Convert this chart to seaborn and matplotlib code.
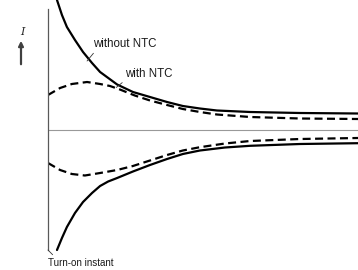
import numpy as np
import pandas as pd
import matplotlib
matplotlib.use("Agg")
import matplotlib.pyplot as plt
import seaborn as sns

# --- Données (t et I en unités arbitraires) ---
t_solid_top = [0.29, 0.45, 0.61, 0.87, 1.13, 1.42, 1.68, 2.23, 2.74, 3.29, 3.84, 4.35, 4.9, 5.45, 6.52, 8.13, 10.0]
i_solid_top = [13.0, 11.5, 10.3, 9.0, 7.8, 6.7, 5.8, 4.55, 3.8, 3.3, 2.8, 2.4, 2.15, 1.95, 1.8, 1.7, 1.65]

t_dash_top = [0.0, 0.39, 0.77, 1.26, 1.68, 2.0, 2.32, 2.8, 3.29, 3.84, 4.35, 4.9, 5.45, 6.52, 8.13, 10.0]
i_dash_top = [3.5, 4.2, 4.6, 4.8, 4.6, 4.4, 4.05, 3.45, 2.95, 2.5, 2.1, 1.8, 1.55, 1.3, 1.15, 1.1]

t_dash_bot = [0.0, 0.39, 0.77, 1.19, 1.68, 2.23, 2.74, 3.29, 3.84, 4.35, 4.9, 5.71, 6.52, 8.13, 10.0]
i_dash_bot = [-3.3, -4.0, -4.4, -4.55, -4.3, -4.0, -3.6, -3.05, -2.5, -2.05, -1.72, -1.35, -1.1, -0.9, -0.8]

t_solid_bot = [0.29, 0.45, 0.61, 0.87, 1.13, 1.42, 1.68, 1.94, 2.23, 2.74, 3.29, 3.84, 4.35, 4.9, 5.71, 6.52, 8.13, 10.0]
i_solid_bot = [-12.0, -10.8, -9.7, -8.3, -7.2, -6.3, -5.6, -5.15, -4.8, -4.15, -3.5, -2.9, -2.4, -2.05, -1.75, -1.58, -1.4, -1.32]

frames = []
for name, kind, t, i in [
    ("top_without", "without NTC", t_solid_top, i_solid_top),
    ("top_with", "with NTC", t_dash_top, i_dash_top),
    ("bot_with", "with NTC", t_dash_bot, i_dash_bot),
    ("bot_without", "without NTC", t_solid_bot, i_solid_bot),
]:
    frames.append(pd.DataFrame({"t": t, "I": i, "curve": name, "type": kind}))
df = pd.concat(frames, ignore_index=True)

sns.set_style("white")
plt.rcParams["font.family"] = ["Liberation Sans", "DejaVu Sans"]

fig = plt.figure(figsize=(3.58, 2.7), dpi=100)
ax = fig.add_axes([48 / 358, 10 / 270, 310 / 358, 260 / 270])

sns.lineplot(
    data=df, x="t", y="I", units="curve", estimator=None, style="type",
    style_order=["without NTC", "with NTC"],
    dashes={"without NTC": "", "with NTC": (3.6, 2.0)},
    color="black", linewidth=1.6, sort=False, legend=False, ax=ax,
)

ax.axhline(0, color="0.6", lw=0.8, zorder=0)
ax.set_xlim(0, 10)
ax.set_ylim(-13, 13)
ax.set_xticks([])
ax.set_yticks([])
ax.set_xlabel("")
ax.set_ylabel("")
for s in ["top", "right", "bottom"]:
    ax.spines[s].set_visible(False)
ax.spines["left"].set_color("0.35")
ax.spines["left"].set_linewidth(0.9)
ax.spines["left"].set_bounds(-12.0, 12.1)

# --- Annotations ---
ax.annotate("without NTC", xy=(1.26, 6.9), xytext=(1.45, 8.6), fontsize=8.3,
            va="center", ha="left", color="0.1",
            arrowprops=dict(arrowstyle="-", lw=0.6, color="0.2", shrinkA=0, shrinkB=0,
                            relpos=(0.05, 0.0)))
ax.annotate("with NTC", xy=(2.2, 4.25), xytext=(2.5, 5.6), fontsize=8.3,
            va="center", ha="left", color="0.1",
            arrowprops=dict(arrowstyle="-", lw=0.6, color="0.2", shrinkA=0, shrinkB=0,
                            relpos=(0.0, 0.0)))
ax.annotate("Turn-on instant", xy=(0.0, -12.0), xytext=(0.0, -13.3), fontsize=7.1,
            va="center", ha="left", annotation_clip=False, color="0.1",
            arrowprops=dict(arrowstyle="-", lw=0.6, color="0.2", shrinkA=0, shrinkB=0,
                            relpos=(0.12, 1.0)))

fig.text(22 / 358, 1 - 32 / 270, "I", fontsize=8, style="italic",
         family="DejaVu Serif", ha="center", va="center")
fig.patches.append(matplotlib.patches.FancyArrowPatch(
    (21 / 358, 1 - 67 / 270), (21 / 358, 1 - 38 / 270), transform=fig.transFigure,
    arrowstyle="-|>", mutation_scale=7, lw=1.6, color="0.25"))

fig.savefig("out.png", dpi=100)
